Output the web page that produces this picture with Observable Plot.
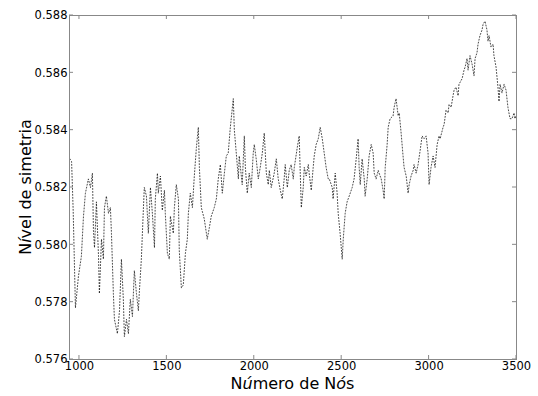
<!DOCTYPE html>
<html>
<head>
<meta charset="utf-8">
<script src="https://cdn.jsdelivr.net/npm/d3@7"></script>
<script src="https://cdn.jsdelivr.net/npm/@observablehq/plot@0.6"></script>
<style>
  html, body { margin: 0; padding: 0; background: #fff; }
  svg { display: block; }
</style>
</head>
<body>
<div id="chart"></div>
<script>
// Number of nodes in the network
const nodes = [
  945, 955, 964, 977, 994, 1011, 1023, 1034, 1051, 1063, 1074, 1080, 1086, 1097, 1109, 1114,
  1126, 1137, 1143, 1154, 1166, 1177, 1183, 1194, 1200, 1217, 1229, 1240, 1251, 1257, 1269, 1280,
  1291, 1303, 1314, 1326, 1337, 1343, 1354, 1366, 1371, 1383, 1394, 1406, 1417, 1429, 1434, 1446,
  1451, 1463, 1474, 1486, 1491, 1503, 1514, 1520, 1537, 1543, 1554, 1566, 1571, 1583, 1594, 1606,
  1617, 1623, 1634, 1646, 1657, 1669, 1680, 1686, 1697, 1714, 1731, 1743, 1754, 1771, 1783, 1794,
  1806, 1817, 1829, 1840, 1851, 1863, 1880, 1886, 1897, 1909, 1914, 1931, 1943, 1949, 1960, 1971,
  1983, 1994, 2000, 2011, 2023, 2034, 2046, 2057, 2069, 2080, 2086, 2097, 2114, 2126, 2137, 2149,
  2160, 2171, 2177, 2189, 2200, 2211, 2223, 2229, 2246, 2257, 2263, 2269, 2280, 2286, 2297, 2309,
  2314, 2326, 2337, 2343, 2354, 2366, 2377, 2389, 2400, 2411, 2423, 2429, 2446, 2451, 2463, 2474,
  2480, 2491, 2503, 2509, 2520, 2531, 2543, 2560, 2571, 2583, 2594, 2600, 2606, 2617, 2629, 2634,
  2646, 2657, 2669, 2680, 2686, 2697, 2709, 2714, 2726, 2737, 2743, 2749, 2760, 2766, 2777, 2794,
  2800, 2811, 2823, 2829, 2840, 2851, 2857, 2869, 2880, 2886, 2897, 2909, 2914, 2926, 2937, 2949,
  2960, 2971, 2983, 2994, 3000, 3011, 3023, 3034, 3046, 3057, 3063, 3080, 3086, 3097, 3109, 3114,
  3126, 3137, 3143, 3154, 3166, 3171, 3189, 3200, 3206, 3217, 3223, 3234, 3246, 3257, 3263, 3274,
  3280, 3291, 3303, 3309, 3320, 3331, 3337, 3343, 3354, 3366, 3371, 3383, 3394, 3400, 3406, 3417,
  3429, 3440, 3451, 3463, 3474, 3486, 3491, 3497
];

// Symmetry level measured for each network size
const symmetry = [
  0.5830, 0.5829, 0.5812, 0.5778, 0.5789, 0.5796, 0.5810, 0.5818, 0.5823, 0.5820, 0.5825, 0.5805, 0.5799, 0.5815, 0.5796, 0.5783,
  0.5802, 0.5795, 0.5813, 0.5817, 0.5811, 0.5813, 0.5804, 0.5783, 0.5774, 0.5769, 0.5777, 0.5795, 0.5781, 0.5768, 0.5774, 0.5769,
  0.5781, 0.5775, 0.5791, 0.5783, 0.5777, 0.5784, 0.5795, 0.5813, 0.5820, 0.5817, 0.5804, 0.5820, 0.5811, 0.5799, 0.5816, 0.5825,
  0.5818, 0.5824, 0.5812, 0.5819, 0.5811, 0.5797, 0.5795, 0.5810, 0.5804, 0.5813, 0.5821, 0.5816, 0.5798, 0.5785, 0.5786, 0.5797,
  0.5802, 0.5811, 0.5818, 0.5813, 0.5824, 0.5834, 0.5841, 0.5827, 0.5813, 0.5809, 0.5802, 0.5806, 0.5810, 0.5813, 0.5816, 0.5823,
  0.5828, 0.5818, 0.5825, 0.5831, 0.5832, 0.5841, 0.5851, 0.5840, 0.5832, 0.5823, 0.5831, 0.5821, 0.5838, 0.5827, 0.5818, 0.5825,
  0.5820, 0.5832, 0.5835, 0.5830, 0.5823, 0.5827, 0.5832, 0.5839, 0.5825, 0.5821, 0.5826, 0.5820, 0.5825, 0.5830, 0.5823, 0.5819,
  0.5816, 0.5823, 0.5828, 0.5820, 0.5826, 0.5828, 0.5823, 0.5827, 0.5834, 0.5838, 0.5825, 0.5813, 0.5820, 0.5827, 0.5824, 0.5828,
  0.5825, 0.5819, 0.5827, 0.5831, 0.5835, 0.5837, 0.5841, 0.5837, 0.5832, 0.5827, 0.5823, 0.5823, 0.5820, 0.5816, 0.5825, 0.5818,
  0.5811, 0.5804, 0.5795, 0.5802, 0.5811, 0.5815, 0.5817, 0.5820, 0.5823, 0.5830, 0.5837, 0.5827, 0.5821, 0.5830, 0.5823, 0.5817,
  0.5823, 0.5831, 0.5835, 0.5832, 0.5825, 0.5823, 0.5826, 0.5825, 0.5823, 0.5819, 0.5816, 0.5827, 0.5835, 0.5841, 0.5844, 0.5845,
  0.5848, 0.5851, 0.5845, 0.5846, 0.5839, 0.5831, 0.5827, 0.5824, 0.5818, 0.5821, 0.5824, 0.5826, 0.5828, 0.5825, 0.5828, 0.5833,
  0.5838, 0.5837, 0.5838, 0.5832, 0.5821, 0.5827, 0.5831, 0.5827, 0.5835, 0.5838, 0.5837, 0.5841, 0.5842, 0.5847, 0.5846, 0.5849,
  0.5848, 0.5852, 0.5854, 0.5855, 0.5852, 0.5856, 0.5858, 0.5861, 0.5862, 0.5865, 0.5861, 0.5866, 0.5863, 0.5859, 0.5865, 0.5867,
  0.5870, 0.5873, 0.5875, 0.5877, 0.5878, 0.5875, 0.5871, 0.5873, 0.5869, 0.5870, 0.5866, 0.5862, 0.5855, 0.5850, 0.5856, 0.5853,
  0.5856, 0.5854, 0.5848, 0.5844, 0.5844, 0.5846, 0.5844, 0.5845
];

const xTicks = [1000, 1500, 2000, 2500, 3000, 3500];
const yTicks = [0.576, 0.578, 0.580, 0.582, 0.584, 0.586, 0.588];
const xLabel = ["N", "ú", "mero de N", "ó", "s"];
const yLabel = ["N", "í", "vel de simetria"];

const series = nodes.map((n, i) => ({n, s: symmetry[i]}));

const W = 538, H = 396;
const mL = 69, mR = 22, mT = 15, mB = 37;
const spine = "#888";
const font = "DejaVu Sans, sans-serif";

const chart = Plot.plot({
  width: W,
  height: H,
  marginLeft: mL,
  marginRight: mR,
  marginTop: mT,
  marginBottom: mB,
  style: {fontFamily: font, fontSize: "11.5px", color: "black", background: "white", overflow: "visible"},
  x: {domain: [943, 3500]},
  y: {domain: [0.576, 0.588]},
  marks: [
    Plot.line(series, {x: "n", y: "s", stroke: "#111", strokeOpacity: 0.85, strokeWidth: 0.9, strokeDasharray: "1,2"}),
    Plot.frame({stroke: spine, strokeWidth: 1}),
    Plot.axisX({anchor: "bottom", ticks: xTicks, tickFormat: d => String(d), tickSize: 0, tickPadding: 2, label: null, fill: "black"}),
    Plot.axisY({anchor: "left", ticks: yTicks, tickFormat: d3.format(".3f"), tickSize: 0, tickPadding: 2, label: null, fill: "black"})
  ]
});

const svg = d3.select(chart);
// inward tick marks on all four sides
const sx = chart.scale("x"), sy = chart.scale("y");
const tk = svg.append("g").attr("stroke", spine).attr("stroke-width", 1);
const yTop = mT, yBottom = H - mB, xLeft = mL, xRight = W - mR;
for (const t of xTicks) {
  const px = sx.apply(t);
  tk.append("line").attr("x1", px).attr("x2", px).attr("y1", yBottom).attr("y2", yBottom - 4);
  tk.append("line").attr("x1", px).attr("x2", px).attr("y1", yTop).attr("y2", yTop + 4);
}
for (const t of yTicks) {
  const py = sy.apply(t);
  tk.append("line").attr("y1", py).attr("y2", py).attr("x1", xLeft).attr("x2", xLeft + 4);
  tk.append("line").attr("y1", py).attr("y2", py).attr("x1", xRight).attr("x2", xRight - 4);
}

// axis titles, accented letters set in italic
function title(g, parts) {
  parts.forEach((p, i) => {
    g.append("tspan").attr("font-style", i % 2 === 1 ? "italic" : "normal").text(p);
  });
}
const xt = svg.append("text")
  .attr("x", (xLeft + xRight) / 2).attr("y", 389)
  .attr("text-anchor", "middle").attr("font-family", font).attr("font-size", 16).attr("fill", "black");
title(xt, xLabel);
const yt = svg.append("text")
  .attr("transform", `translate(31,${(yTop + yBottom) / 2}) rotate(-90)`)
  .attr("text-anchor", "middle").attr("font-family", font).attr("font-size", 16).attr("fill", "black");
title(yt, yLabel);

document.getElementById("chart").appendChild(chart);
</script>
</body>
</html>
